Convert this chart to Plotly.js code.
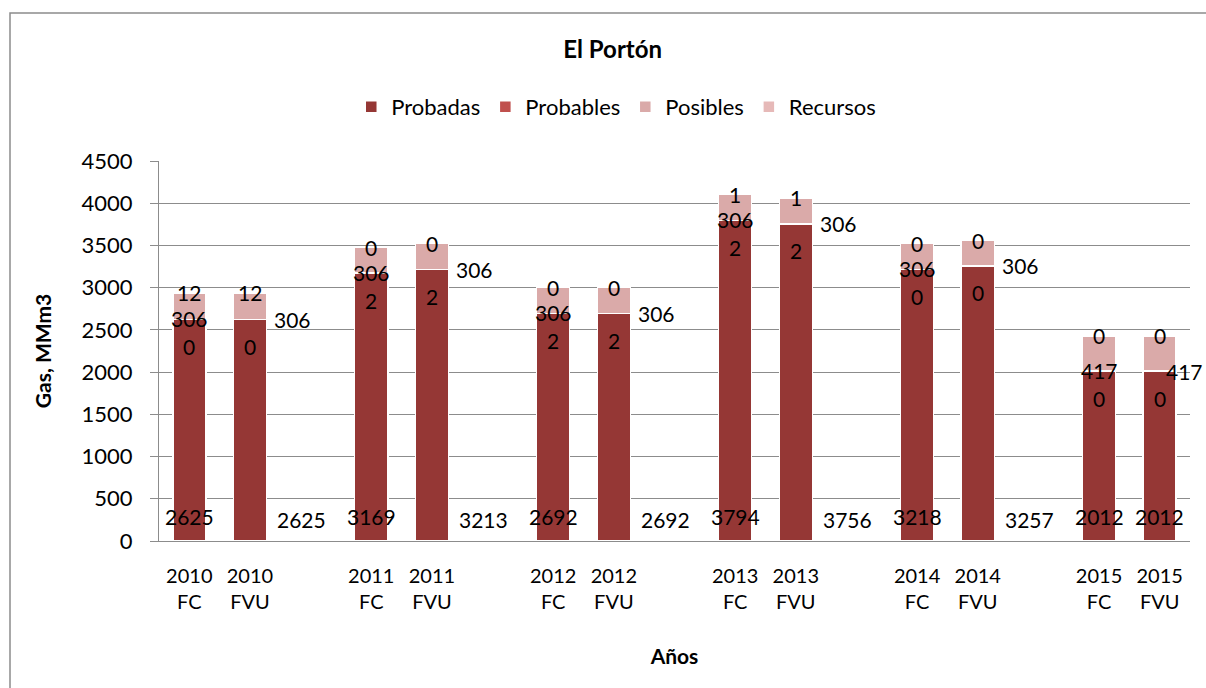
<!DOCTYPE html>
<html>
<head>
<meta charset="utf-8">
<script src="https://cdn.plot.ly/plotly-3.0.1.min.js"></script>
<style>html,body{margin:0;padding:0;background:#fff;}#chart{width:1206px;height:688px;}</style>
</head>
<body>
<div id="chart"></div>
<script>
// ---- data ----
const years = ['2010', '2011', '2012', '2013', '2014', '2015'];
const cases = ['FC', 'FVU'];
const seriesNames = ['Probadas', 'Probables', 'Posibles', 'Recursos'];
// one value per bar, order: 2010 FC, 2010 FVU, 2011 FC, 2011 FVU, ...
const probadas  = [2625, 2625, 3169, 3213, 2692, 2692, 3794, 3756, 3218, 3257, 2012, 2012];
const probables = [0, 0, 2, 2, 2, 2, 2, 2, 0, 0, 0, 0];
const posibles  = [306, 306, 306, 306, 306, 306, 306, 306, 306, 306, 417, 417];
const recursos  = [12, 12, 0, 0, 0, 0, 1, 1, 0, 0, 0, 0];

// ---- layout helpers ----
const FONT = 'Lato, "Open Sans", "DejaVu Sans", sans-serif';
const colors = ['#953735', '#c0504d', '#daaaa9', '#e6b9b8'];
const xPos = [], tickText = [], caseIdx = [];
years.forEach((y, yi) => cases.forEach((c, ci) => {
  xPos.push(yi * 3 + ci);
  tickText.push(y + '<br>' + c);
  caseIdx.push(ci);
}));
const xMax = xPos[xPos.length - 1] + 0.5;
const series = [probadas, probables, posibles, recursos];

const traces = series.map((vals, si) => ({
  type: 'bar',
  name: seriesNames[si],
  x: xPos,
  y: vals,
  width: 0.545,
  marker: {color: colors[si], line: {color: '#ffffff', width: 1.5}},
  hoverinfo: 'name+y'
}));

const annotations = [];
const lblFont = {family: FONT, size: 21, color: '#000'};
function lab(x, y, text, yshift, xshift, xanchor) {
  annotations.push({
    x: x, y: y, xref: 'x', yref: 'y', text: String(text), showarrow: false,
    font: lblFont, xanchor: xanchor || 'center', yanchor: 'middle',
    yshift: yshift || 0, xshift: xshift || 0
  });
}
xPos.forEach((p, k) => {
  const base = probadas[k] + probables[k];
  const total = base + posibles[k] + recursos[k];
  lab(p, total, recursos[k], 0);
  lab(p, base, probables[k], -27);
  if (caseIdx[k] === 0) {
    lab(p, base, posibles[k], 1);
    lab(p, 0, probadas[k], 25);
  } else {
    // labels set to the right of the bar; at the last bar keep them inside the page
    if (p + 0.72 <= xMax) lab(p, base, posibles[k], 0, 43);
    else lab(p, base, posibles[k], 0, 45, 'right');
    if (p + 0.86 <= xMax) lab(p, 0, probadas[k], 22, 52);
    else lab(p, 0, probadas[k], 25);
  }
});

const layout = {
  width: 1206, height: 688,
  margin: {l: 159, r: 16, t: 161, b: 147},
  paper_bgcolor: '#ffffff', plot_bgcolor: '#ffffff',
  font: {family: FONT, size: 21, color: '#000'},
  barmode: 'stack',
  showlegend: true,
  title: {
    text: '<b>El Portón</b>', font: {family: FONT, size: 24, color: '#000'},
    x: 0.508, xref: 'container', xanchor: 'center',
    y: 1 - 50 / 688, yref: 'container', yanchor: 'middle'
  },
  legend: {
    orientation: 'h', xref: 'container', yref: 'container',
    x: 0.511, xanchor: 'center', y: 1 - 107 / 688, yanchor: 'middle',
    font: {family: FONT, size: 22, color: '#000'},
    traceorder: 'normal', itemwidth: 30, bgcolor: 'rgba(0,0,0,0)'
  },
  xaxis: {
    range: [-0.5, xMax], tickmode: 'array', tickvals: xPos, ticktext: tickText,
    showgrid: false, zeroline: false, showline: true, linecolor: '#8c8c8c', linewidth: 1,
    ticks: '', tickfont: {family: FONT, size: 20, color: '#000'},
    ticklabelstandoff: 17,
    title: {text: '<b>Años</b>', font: {family: FONT, size: 21, color: '#000'}, standoff: 37},
    fixedrange: true
  },
  yaxis: {
    range: [0, 4500], dtick: 500, tick0: 0,
    showgrid: true, gridcolor: '#8c8c8c', gridwidth: 1,
    zeroline: false, showline: true, linecolor: '#8c8c8c', linewidth: 1,
    ticks: 'outside', ticklen: 8, tickcolor: '#8c8c8c', tickwidth: 1,
    tickfont: {family: FONT, size: 22, color: '#000'},
    ticklabelstandoff: 13,
    title: {text: '<b>Gas, MMm3</b>', font: {family: FONT, size: 21, color: '#000'}, standoff: 24},
    fixedrange: true
  },
  annotations: annotations,
  shapes: [{
    type: 'rect', xref: 'paper', yref: 'paper', layer: 'below',
    x0: (10 - 159) / 1031, x1: (1215 - 159) / 1031,
    y0: (541 - 700) / 380, y1: (541 - 13) / 380,
    line: {color: '#8c8c8c', width: 1.5}, fillcolor: 'rgba(0,0,0,0)'
  }]
};

Plotly.newPlot('chart', traces, layout, {displayModeBar: false, staticPlot: true});
</script>
</body>
</html>
